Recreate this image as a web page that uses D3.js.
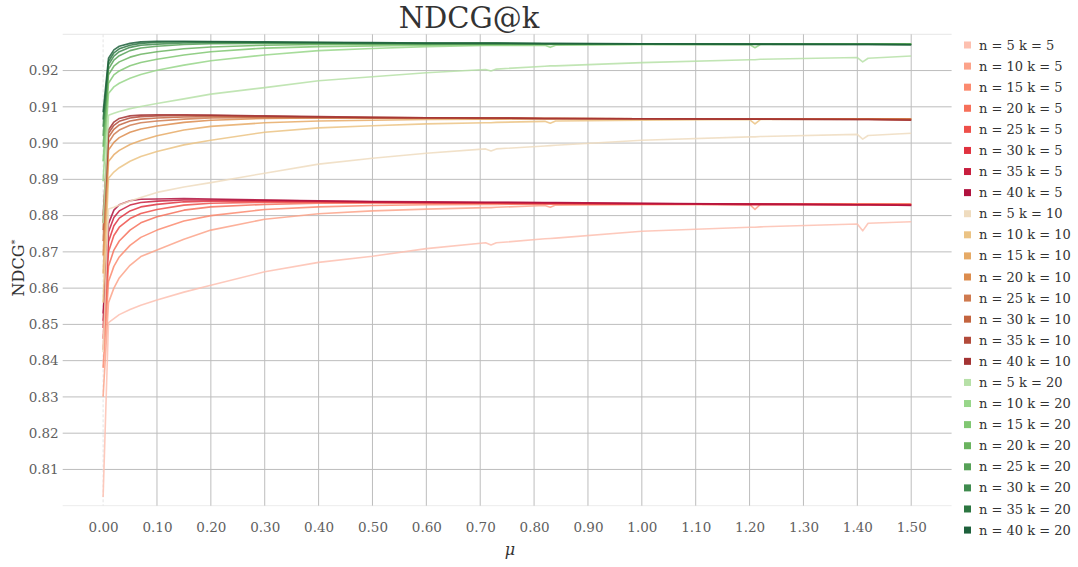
<!DOCTYPE html>
<html>
<head>
  <meta charset="utf-8">
  <title>NDCG@k</title>
  <script src="https://d3js.org/d3.v7.min.js"></script>
  <style>
    body { margin: 0; background: #fff; }
  </style>
</head>
<body>
<svg id="chart" width="1078" height="567"></svg>
<script>
// mu values sampled along the x axis
var mu = [0, 0.01, 0.02, 0.03, 0.05, 0.07, 0.10, 0.15, 0.20, 0.30, 0.40, 0.50, 0.60,
          0.71, 0.72, 0.73, 0.82, 0.83, 0.84, 1.00, 1.20, 1.21, 1.22, 1.40, 1.41, 1.42, 1.50];

var nValues = [5, 10, 15, 20, 25, 30, 35, 40];
var kValues = [5, 10, 20];

var redColors    = ["#fdc0b0", "#fca38a", "#fb8a6f", "#f6705a", "#ee4f49", "#e0323f", "#c81e3e", "#b0123e"];
var orangeColors = ["#efdcbf", "#ebc384", "#e6aa66", "#dc8c4d", "#cf7a4f", "#c3643f", "#b24a3a", "#a33333"];
var greenColors  = ["#b6e0a7", "#98d68a", "#80c772", "#6ab35f", "#56a157", "#3f8b4e", "#2c7641", "#1d603b"];

// k = 5, one row per n
var ndcgK5 = [
  [0.8024, 0.8505, 0.8516, 0.8527, 0.8541, 0.8553, 0.8567, 0.8589, 0.8608, 0.8645, 0.8671, 0.8688, 0.8709, 0.8725, 0.8719, 0.8725, 0.8736, 0.8737, 0.8738, 0.8757, 0.8768, 0.8768, 0.8769, 0.8777, 0.8758, 0.8779, 0.8783],
  [0.8300, 0.8560, 0.8600, 0.8628, 0.8663, 0.8687, 0.8705, 0.8735, 0.8760, 0.8790, 0.8805, 0.8813, 0.8818, 0.8822, 0.8822, 0.8823, 0.8828, 0.8823, 0.8829, 0.8830, 0.8831, 0.8817, 0.8831, 0.8832, 0.8832, 0.8832, 0.8832],
  [0.8380, 0.8618, 0.8660, 0.8686, 0.8718, 0.8740, 0.8760, 0.8785, 0.8800, 0.8817, 0.8824, 0.8828, 0.8830, 0.8831, 0.8831, 0.8831, 0.8832, 0.8832, 0.8832, 0.8832, 0.8832, 0.8832, 0.8832, 0.8832, 0.8832, 0.8832, 0.8832],
  [0.8430, 0.8660, 0.8705, 0.8730, 0.8760, 0.8780, 0.8797, 0.8815, 0.8824, 0.8831, 0.8834, 0.8835, 0.8835, 0.8834, 0.8834, 0.8834, 0.8833, 0.8833, 0.8833, 0.8832, 0.8832, 0.8832, 0.8832, 0.8831, 0.8831, 0.8831, 0.8831],
  [0.8460, 0.8700, 0.8745, 0.8768, 0.8792, 0.8806, 0.8817, 0.8829, 0.8834, 0.8837, 0.8837, 0.8836, 0.8835, 0.8834, 0.8834, 0.8834, 0.8833, 0.8833, 0.8833, 0.8832, 0.8831, 0.8831, 0.8831, 0.8831, 0.8831, 0.8831, 0.8830],
  [0.8490, 0.8728, 0.8772, 0.8793, 0.8813, 0.8824, 0.8831, 0.8838, 0.8840, 0.8840, 0.8839, 0.8837, 0.8836, 0.8835, 0.8835, 0.8835, 0.8834, 0.8834, 0.8834, 0.8832, 0.8831, 0.8831, 0.8831, 0.8830, 0.8830, 0.8830, 0.8830],
  [0.8510, 0.8755, 0.8795, 0.8813, 0.8829, 0.8836, 0.8840, 0.8843, 0.8843, 0.8842, 0.8840, 0.8838, 0.8837, 0.8836, 0.8836, 0.8836, 0.8835, 0.8835, 0.8835, 0.8833, 0.8831, 0.8831, 0.8831, 0.8830, 0.8830, 0.8830, 0.8829],
  [0.8530, 0.8778, 0.8815, 0.8830, 0.8841, 0.8845, 0.8846, 0.8847, 0.8846, 0.8843, 0.8841, 0.8839, 0.8838, 0.8837, 0.8837, 0.8837, 0.8836, 0.8836, 0.8836, 0.8834, 0.8832, 0.8832, 0.8832, 0.8830, 0.8830, 0.8830, 0.8828]
];

// k = 10
var ndcgK10 = [
  [0.8424, 0.8818, 0.8823, 0.8829, 0.8840, 0.8850, 0.8864, 0.8879, 0.8891, 0.8917, 0.8942, 0.8958, 0.8972, 0.8984, 0.8978, 0.8984, 0.8992, 0.8993, 0.8994, 0.9008, 0.9017, 0.9017, 0.9018, 0.9024, 0.9011, 0.9021, 0.9027],
  [0.8560, 0.8903, 0.8920, 0.8932, 0.8950, 0.8963, 0.8977, 0.8995, 0.9008, 0.9030, 0.9042, 0.9048, 0.9053, 0.9056, 0.9056, 0.9057, 0.9060, 0.9055, 0.9061, 0.9063, 0.9065, 0.9053, 0.9065, 0.9066, 0.9066, 0.9066, 0.9067],
  [0.8640, 0.8949, 0.8968, 0.8980, 0.8996, 0.9007, 0.9020, 0.9036, 0.9046, 0.9056, 0.9061, 0.9063, 0.9065, 0.9066, 0.9066, 0.9066, 0.9067, 0.9067, 0.9067, 0.9067, 0.9067, 0.9067, 0.9067, 0.9067, 0.9067, 0.9067, 0.9067],
  [0.8690, 0.8981, 0.9002, 0.9015, 0.9030, 0.9039, 0.9047, 0.9057, 0.9063, 0.9068, 0.9069, 0.9069, 0.9069, 0.9068, 0.9068, 0.9068, 0.9068, 0.9068, 0.9068, 0.9067, 0.9067, 0.9067, 0.9067, 0.9067, 0.9067, 0.9067, 0.9067],
  [0.8730, 0.9001, 0.9024, 0.9036, 0.9049, 0.9056, 0.9061, 0.9066, 0.9069, 0.9070, 0.9070, 0.9069, 0.9069, 0.9068, 0.9068, 0.9068, 0.9068, 0.9068, 0.9068, 0.9067, 0.9067, 0.9067, 0.9067, 0.9066, 0.9066, 0.9066, 0.9066],
  [0.8760, 0.9016, 0.9038, 0.9050, 0.9061, 0.9066, 0.9069, 0.9072, 0.9073, 0.9072, 0.9071, 0.9070, 0.9069, 0.9069, 0.9069, 0.9069, 0.9068, 0.9068, 0.9068, 0.9067, 0.9066, 0.9066, 0.9066, 0.9066, 0.9066, 0.9066, 0.9065],
  [0.8780, 0.9027, 0.9049, 0.9060, 0.9069, 0.9073, 0.9075, 0.9076, 0.9076, 0.9074, 0.9072, 0.9071, 0.9070, 0.9069, 0.9069, 0.9069, 0.9068, 0.9068, 0.9068, 0.9067, 0.9066, 0.9066, 0.9066, 0.9065, 0.9065, 0.9065, 0.9064],
  [0.8800, 0.9036, 0.9058, 0.9068, 0.9075, 0.9077, 0.9078, 0.9078, 0.9077, 0.9075, 0.9073, 0.9071, 0.9070, 0.9069, 0.9069, 0.9069, 0.9068, 0.9068, 0.9068, 0.9067, 0.9066, 0.9066, 0.9066, 0.9065, 0.9065, 0.9065, 0.9063]
];

// k = 20
var ndcgK20 = [
  [0.8779, 0.9077, 0.9082, 0.9087, 0.9095, 0.9101, 0.9109, 0.9122, 0.9135, 0.9153, 0.9172, 0.9183, 0.9194, 0.9203, 0.9199, 0.9204, 0.9212, 0.9213, 0.9213, 0.9222, 0.9230, 0.9230, 0.9231, 0.9236, 0.9224, 0.9234, 0.9240],
  [0.8895, 0.9137, 0.9155, 0.9165, 0.9179, 0.9189, 0.9201, 0.9215, 0.9227, 0.9243, 0.9255, 0.9261, 0.9266, 0.9269, 0.9269, 0.9269, 0.9270, 0.9264, 0.9270, 0.9271, 0.9272, 0.9263, 0.9272, 0.9273, 0.9273, 0.9273, 0.9273],
  [0.8950, 0.9165, 0.9188, 0.9199, 0.9213, 0.9222, 0.9231, 0.9243, 0.9252, 0.9262, 0.9266, 0.9268, 0.9270, 0.9271, 0.9271, 0.9271, 0.9272, 0.9272, 0.9272, 0.9273, 0.9273, 0.9273, 0.9273, 0.9274, 0.9274, 0.9274, 0.9274],
  [0.8990, 0.9188, 0.9212, 0.9224, 0.9237, 0.9245, 0.9252, 0.9260, 0.9265, 0.9270, 0.9272, 0.9273, 0.9273, 0.9273, 0.9273, 0.9273, 0.9273, 0.9273, 0.9273, 0.9273, 0.9273, 0.9273, 0.9273, 0.9273, 0.9273, 0.9273, 0.9273],
  [0.9020, 0.9204, 0.9229, 0.9241, 0.9255, 0.9262, 0.9267, 0.9272, 0.9274, 0.9275, 0.9275, 0.9275, 0.9274, 0.9274, 0.9274, 0.9274, 0.9274, 0.9274, 0.9274, 0.9273, 0.9273, 0.9273, 0.9273, 0.9273, 0.9273, 0.9273, 0.9273],
  [0.9045, 0.9216, 0.9240, 0.9252, 0.9264, 0.9270, 0.9273, 0.9276, 0.9277, 0.9277, 0.9276, 0.9275, 0.9275, 0.9275, 0.9275, 0.9275, 0.9274, 0.9274, 0.9274, 0.9274, 0.9273, 0.9273, 0.9273, 0.9273, 0.9273, 0.9273, 0.9272],
  [0.9065, 0.9225, 0.9249, 0.9260, 0.9270, 0.9275, 0.9278, 0.9279, 0.9279, 0.9278, 0.9277, 0.9276, 0.9275, 0.9275, 0.9275, 0.9275, 0.9274, 0.9274, 0.9274, 0.9273, 0.9272, 0.9272, 0.9272, 0.9272, 0.9272, 0.9272, 0.9271],
  [0.9085, 0.9234, 0.9257, 0.9267, 0.9275, 0.9279, 0.9281, 0.9281, 0.9280, 0.9279, 0.9278, 0.9277, 0.9276, 0.9276, 0.9276, 0.9276, 0.9275, 0.9275, 0.9275, 0.9274, 0.9273, 0.9273, 0.9273, 0.9272, 0.9272, 0.9272, 0.9271]
];

var xTicks = [0, 0.1, 0.2, 0.3, 0.4, 0.5, 0.6, 0.7, 0.8, 0.9, 1.0, 1.1, 1.2, 1.3, 1.4, 1.5];
var yTicks = [0.81, 0.82, 0.83, 0.84, 0.85, 0.86, 0.87, 0.88, 0.89, 0.90, 0.91, 0.92];

var serif = "DejaVu Serif";

// build the series list
var series = [];
var groups = [ndcgK5, ndcgK10, ndcgK20];
var palettes = [redColors, orangeColors, greenColors];
kValues.forEach(function(k, gi) {
  nValues.forEach(function(n, ni) {
    series.push({
      label: "n = " + n + " k = " + k,
      color: palettes[gi][ni],
      values: groups[gi][ni]
    });
  });
});

var svg = d3.select("#chart");
var margin = {top: 34.3, right: 126.4, bottom: 61.3, left: 62.7};
var width = 1078 - margin.left - margin.right,
    height = 567 - margin.top - margin.bottom;

var x = d3.scaleLinear().domain([-0.075, 1.575]).range([0, width]);
var y = d3.scaleLinear().domain([0.80, 0.93]).range([height, 0]);

var g = svg.append("g")
    .attr("transform", "translate(" + margin.left + "," + margin.top + ")");

// plot frame (top and bottom)
g.append("line").attr("x1", 0).attr("x2", width).attr("y1", 0).attr("y2", 0)
  .attr("stroke", "#e6e6e6");
g.append("line").attr("x1", 0).attr("x2", width).attr("y1", height).attr("y2", height)
  .attr("stroke", "#ececec");

// grid
g.append("g")
  .selectAll("line")
  .data(yTicks)
  .enter().append("line")
    .attr("x1", 0).attr("x2", width)
    .attr("y1", function(d) { return y(d); })
    .attr("y2", function(d) { return y(d); })
    .attr("stroke", "#bdbdbd");

g.append("g")
  .selectAll("line")
  .data(xTicks)
  .enter().append("line")
    .attr("x1", function(d) { return x(d); })
    .attr("x2", function(d) { return x(d); })
    .attr("y1", 0).attr("y2", height)
    .attr("stroke", function(d) { return d === 0 ? "#e4e4e4" : "#bdbdbd"; })
    .attr("stroke-dasharray", function(d) { return d === 0 ? "3,2" : null; });

// axes (labels only)
var xAxis = g.append("g")
  .attr("transform", "translate(0," + height + ")")
  .call(d3.axisBottom(x).tickValues(xTicks).tickFormat(d3.format(".2f")).tickSize(0).tickPadding(17));
var yAxis = g.append("g")
  .call(d3.axisLeft(y).tickValues(yTicks).tickFormat(d3.format(".2f")).tickSize(0).tickPadding(4));
[xAxis, yAxis].forEach(function(a) {
  a.select(".domain").remove();
  a.attr("font-family", null).attr("font-size", null);
  a.selectAll("text")
    .attr("fill", "#5f5f5f")
    .attr("font-family", serif)
    .attr("font-size", 13.5);
});

// lines
var line = d3.line()
  .x(function(d, i) { return x(mu[i]); })
  .y(function(d) { return y(d); });

g.append("g")
  .selectAll("path")
  .data(series)
  .enter().append("path")
    .attr("d", function(d) { return line(d.values); })
    .attr("fill", "none")
    .attr("stroke", function(d) { return d.color; })
    .attr("stroke-width", 1.6)
    .attr("stroke-opacity", 0.85)
    .attr("stroke-linejoin", "round");

// title
svg.append("text")
  .attr("x", 469).attr("y", 28)
  .attr("text-anchor", "middle")
  .attr("fill", "#333")
  .attr("font-family", serif)
  .attr("font-size", 29)
  .text("NDCG@k");

// axis titles
svg.append("text")
  .attr("x", 510).attr("y", 555)
  .attr("text-anchor", "middle")
  .attr("fill", "#333")
  .attr("font-family", serif)
  .attr("font-size", 16)
  .attr("font-style", "italic")
  .text("μ");

var yTitle = svg.append("text")
  .attr("transform", "translate(24,268) rotate(-90)")
  .attr("text-anchor", "middle")
  .attr("fill", "#333")
  .attr("font-family", serif)
  .attr("font-size", 16);
yTitle.append("tspan").text("NDCG");
yTitle.append("tspan").attr("dy", -6).attr("font-size", 10).text("*");

// legend
var legend = svg.append("g").attr("transform", "translate(964,45)");
var item = legend.selectAll("g")
  .data(series)
  .enter().append("g")
    .attr("transform", function(d, i) { return "translate(0," + (i * 21.09) + ")"; });
item.append("rect")
  .attr("x", 0).attr("y", -3.5)
  .attr("width", 7).attr("height", 7)
  .attr("fill", function(d) { return d.color; });
item.append("text")
  .attr("x", 15).attr("y", 0)
  .attr("dy", "0.35em")
  .attr("fill", "#333")
  .attr("font-family", serif)
  .attr("font-size", 13)
  .text(function(d) { return d.label; });
</script>
</body>
</html>
